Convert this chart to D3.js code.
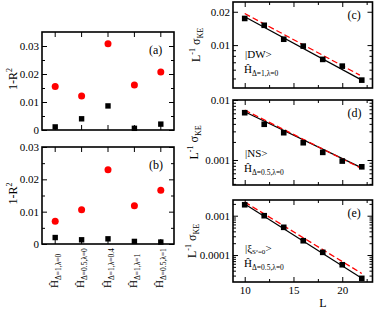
<!DOCTYPE html>
<html>
<head>
<meta charset="utf-8">
<script src="https://cdn.jsdelivr.net/npm/d3@7"></script>
<style>
body {margin:0; background:#fff}
text {font-family:"Liberation Serif","Times New Roman",serif; fill:#000}
.domain {display:none}
.tick line {stroke:#000; stroke-width:1}
</style>
</head>
<body>
<div id="chart"></div>
<script>
var width = 374
var height = 309

// left panels: fit quality per Hamiltonian
var categories = ['Δ=1,λ=0', 'Δ=0.5,λ=0', 'Δ=1,λ=0.4', 'Δ=1,λ=1', 'Δ=0.5,λ=1']
var aRed   = [0.0155, 0.0121, 0.0308, 0.0161, 0.0207]
var aBlack = [0.0011, 0.0040, 0.0086, 0.0006, 0.0021]
var bRed   = [0.0070, 0.0106, 0.0230, 0.0118, 0.0166]
var bBlack = [0.0020, 0.0013, 0.0016, 0.0008, 0.0006]
var abTicks = [0, 0.01, 0.02, 0.03]

// right panels: L^-1 sigma_KE vs L
var sizes = [10, 12, 14, 16, 18, 20, 22]
var cVals = [0.0174, 0.0151, 0.0113, 0.0098, 0.00743, 0.00646, 0.00483]
var dVals = [0.00614, 0.00394, 0.00285, 0.00194, 0.00134, 0.00096, 0.00077]
var eVals = [0.0019, 0.0010, 0.000507, 0.000231, 0.000117, 0.0000566, 0.0000255]
var cFitBlack = [[10, 0.0180], [22, 0.00483]]
var cFitRed   = [[10, 0.0193], [21.8, 0.00536]]
var dFitBlack = [[10, 0.00638], [22, 0.00074]]
var dFitRed   = [[10, 0.0068], [22, 0.00072]]
var eFitBlack = [[10, 0.00198], [22, 0.0000256]]
var eFitRed   = [[10, 0.00223], [22, 0.000034]]
var cTicks = [0.01, 0.02]
var dTicks = [0.001, 0.01]
var eTicks = [0.0001, 0.001]
var lTicks = [10, 15, 20]
var lMinor = [12.5, 17.5, 22.5]

var svg = d3.select('#chart').append('svg')
            .attr('width', width)
            .attr('height', height)

function frame(box) {
  svg.append('rect')
     .attr('x', box.x0).attr('y', box.y0)
     .attr('width', box.x1 - box.x0).attr('height', box.y1 - box.y0)
     .attr('fill', 'none').attr('stroke', '#000').attr('stroke-width', 1.6)
}

function yAxes(box, y, major, minor, fmt) {
  svg.append('g').attr('transform', 'translate(' + box.x0 + ',0)')
     .call(d3.axisLeft(y).tickValues(major).tickSize(-5).tickPadding(3).tickFormat(fmt))
     .selectAll('text').style('font-size', '11px').style('font-family', 'Liberation Serif')
  svg.append('g').attr('transform', 'translate(' + box.x0 + ',0)')
     .call(d3.axisLeft(y).tickValues(minor).tickSize(-3).tickFormat(''))
  svg.append('g').attr('transform', 'translate(' + box.x1 + ',0)')
     .call(d3.axisRight(y).tickValues(major).tickSize(-5).tickFormat(''))
  svg.append('g').attr('transform', 'translate(' + box.x1 + ',0)')
     .call(d3.axisRight(y).tickValues(minor).tickSize(-3).tickFormat(''))
}

function tag(x, y, s) {
  svg.append('text').attr('x', x).attr('y', y).style('font-size', '12px').text(s)
}

// ---------- left panels ----------
function scatterPanel(box, yMax, red, black, label, showNames) {
  var x = d3.scaleBand().domain(categories).range([box.x0, box.x1])
  var y = d3.scaleLinear().domain([0, yMax]).range([box.y1, box.y0])
  var cx = (d) => (x(d) + x.bandwidth() / 2)

  frame(box)
  var minor = y.ticks(8).filter((d) => (abTicks.indexOf(+d.toFixed(4)) < 0 && d < yMax))
  yAxes(box, y, abTicks.filter((d) => (d <= yMax)), minor, d3.format('~g'))

  svg.append('g').attr('transform', 'translate(0,' + box.y1 + ')')
     .call(d3.axisBottom(x).tickSize(-5).tickFormat(''))
  svg.append('g').attr('transform', 'translate(0,' + box.y0 + ')')
     .call(d3.axisTop(x).tickSize(-5).tickFormat(''))

  svg.append('g').selectAll('rect')
     .data(black).enter().append('rect')
       .attr('x', (d, i) => (cx(categories[i]) - 2.7))
       .attr('y', (d) => (y(d) - 2.7))
       .attr('width', 5.4).attr('height', 5.4)
       .attr('fill', '#000')
  svg.append('g').selectAll('circle')
     .data(red).enter().append('circle')
       .attr('cx', (d, i) => (cx(categories[i])))
       .attr('cy', (d) => (y(d)))
       .attr('r', 3.5)
       .attr('fill', '#f00')

  tag(box.x1 - 25, box.y0 + 22, label)

  var yl = svg.append('text')
     .attr('transform', 'translate(17,' + ((box.y0 + box.y1) / 2 - 2) + ') rotate(-90)')
     .attr('text-anchor', 'middle').style('font-size', '12px')
  yl.append('tspan').text('1-R')
  yl.append('tspan').attr('dy', -5).style('font-size', '8px').text('2')

  if (showNames) {
    categories.forEach((c) => {
      var t = svg.append('text')
         .attr('transform', 'translate(' + (cx(c) + 2.5) + ',288) rotate(-90)')
         .style('font-size', '11px')
      t.append('tspan').text('Ĥ')
      t.append('tspan').attr('dy', 3).style('font-size', '7.5px').text(c)
    })
  }
}

scatterPanel({x0: 42, x1: 174, y0: 32, y1: 130}, 0.035, aRed, aBlack, '(a)', false)
scatterPanel({x0: 42, x1: 174, y0: 147, y1: 244}, 0.03, bRed, bBlack, '(b)', true)

// ---------- right panels ----------
var xL = d3.scaleLinear().domain([8.8, 23.1]).range([233, 372.5])

function scalingPanel(box, domain, vals, fitBlack, fitRed, major, label, ylabX, state, stateSub, hamSub, annY, last) {
  var y = d3.scaleLog().domain(domain).range([box.y1, box.y0])
  frame(box)
  var minor = y.ticks().filter((d) => (major.every((m) => (Math.abs(m - d) / m > 1e-6))))
  yAxes(box, y, major, minor, d3.format('~f'))

  var bottom = svg.append('g').attr('transform', 'translate(0,' + box.y1 + ')')
  bottom.call(d3.axisBottom(xL).tickValues(lTicks).tickSize(-5).tickPadding(4)
                .tickFormat(last ? d3.format('d') : ''))
  bottom.selectAll('text').style('font-size', '11px').style('font-family', 'Liberation Serif')
  svg.append('g').attr('transform', 'translate(0,' + box.y1 + ')')
     .call(d3.axisBottom(xL).tickValues(lMinor).tickSize(-3).tickFormat(''))
  svg.append('g').attr('transform', 'translate(0,' + box.y0 + ')')
     .call(d3.axisTop(xL).tickValues(lTicks).tickSize(-5).tickFormat(''))
  svg.append('g').attr('transform', 'translate(0,' + box.y0 + ')')
     .call(d3.axisTop(xL).tickValues(lMinor).tickSize(-3).tickFormat(''))

  var line = d3.line().x((d) => (xL(d[0]))).y((d) => (y(d[1])))
  svg.append('path').datum(fitBlack).attr('d', line)
     .attr('fill', 'none').attr('stroke', '#000').attr('stroke-width', 1.2)
  svg.append('path').datum(fitRed).attr('d', line)
     .attr('fill', 'none').attr('stroke', '#f00').attr('stroke-width', 1.3)
     .attr('stroke-dasharray', '6,3')

  svg.append('g').selectAll('rect')
     .data(vals).enter().append('rect')
       .attr('x', (d, i) => (xL(sizes[i]) - 2.8))
       .attr('y', (d) => (y(d) - 2.8))
       .attr('width', 5.6).attr('height', 5.6)
       .attr('fill', '#000')

  tag(box.x1 - 25, box.y0 + 17, label)

  var yl = svg.append('text')
     .attr('transform', 'translate(' + ylabX + ',' + ((box.y0 + box.y1) / 2) + ') rotate(-90)')
     .attr('text-anchor', 'middle').style('font-size', '12px')
  yl.append('tspan').text('L')
  yl.append('tspan').attr('dy', -5).style('font-size', '8px').text('-1')
  yl.append('tspan').attr('dy', 5).text(' σ')
  yl.append('tspan').attr('dy', 3).style('font-size', '8px').text('KE')

  var st = svg.append('text').attr('x', 245).attr('y', annY).style('font-size', '11px')
  st.append('tspan').text(state)
  if (stateSub) {
    st.append('tspan').attr('dy', 2).style('font-size', '7px').text(stateSub)
    st.append('tspan').attr('dy', -2).text('>')
  }
  var h = svg.append('text').attr('x', 244).attr('y', annY + 15).style('font-size', '11px')
  h.append('tspan').text('Ĥ')
  h.append('tspan').attr('dy', 3).style('font-size', '7.5px').text(hamSub)
}

scalingPanel({x0: 233, x1: 372.5, y0: 2, y1: 88}, [0.0041, 0.0245], cVals, cFitBlack, cFitRed,
             cTicks, '(c)', 200, '|DW>', null, 'Δ=1,λ=0', 58, false)
scalingPanel({x0: 233, x1: 372.5, y0: 100, y1: 185}, [0.000383, 0.01], dVals, dFitBlack, dFitRed,
             dTicks, '(d)', 198, '|NS>', null, 'Δ=0.5,λ=0', 157, false)
scalingPanel({x0: 233, x1: 372.5, y0: 200, y1: 282}, [0.0000206, 0.00251], eVals, eFitBlack, eFitRed,
             eTicks, '(e)', 196, '|ξ', 'Sᶻ=0', 'Δ=0.5,λ=0', 252, true)

svg.append('text').attr('x', 323).attr('y', 307).attr('text-anchor', 'middle')
   .style('font-size', '12px').text('L')
</script>
</body>
</html>
